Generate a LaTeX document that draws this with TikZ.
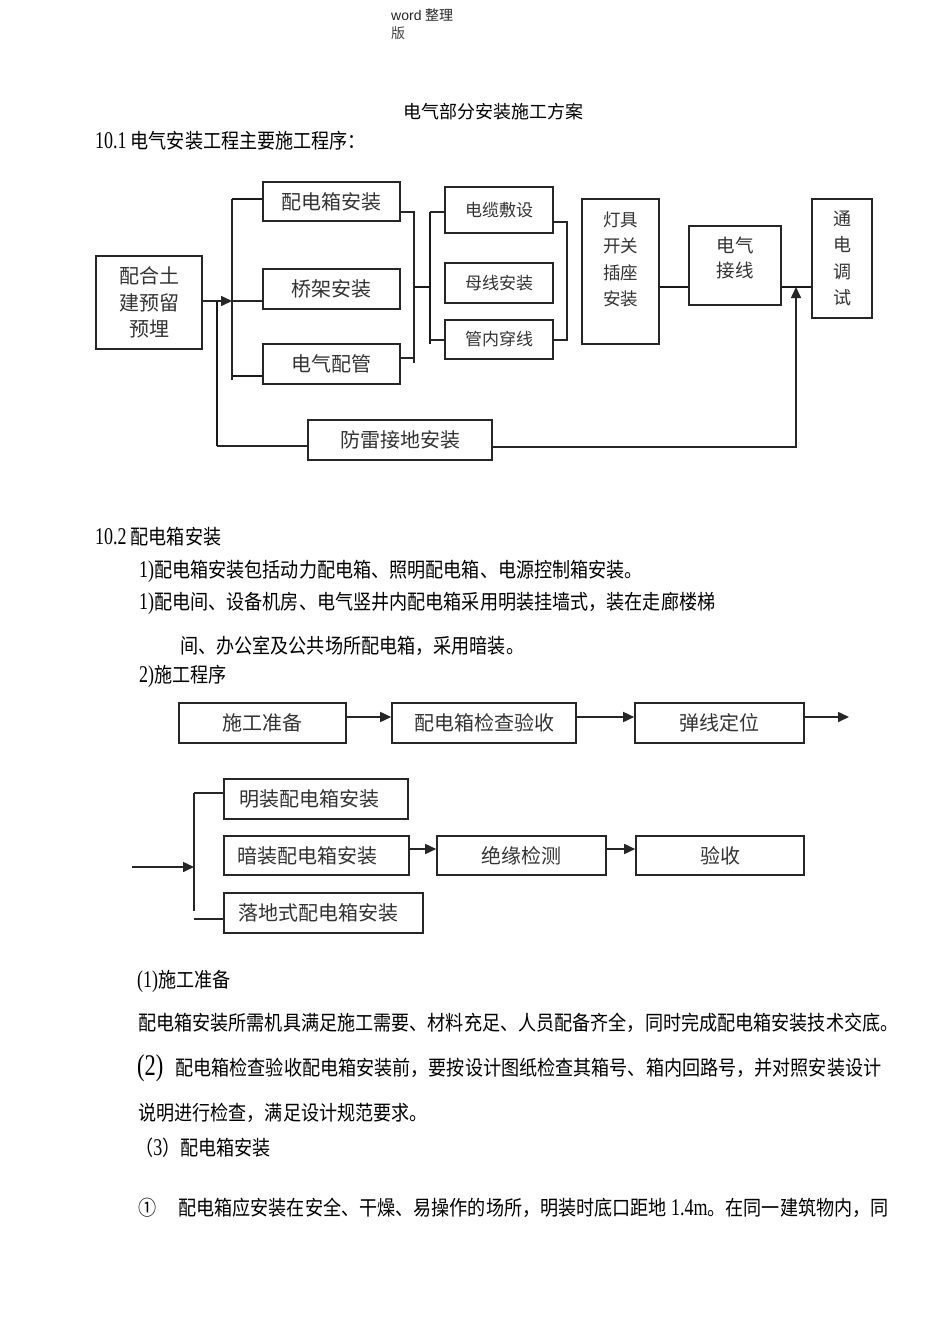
\documentclass[tikz,border=0pt]{standalone}
\usepackage{fontspec}
\setmainfont{Liberation Serif}
\newfontfamily\cjk{Noto Sans CJK SC}
\newfontfamily\cjkc[FakeStretch=0.883]{Noto Sans CJK SC}
\newfontfamily\latc[FakeStretch=0.75]{Liberation Serif}
\newfontfamily\arialf{Liberation Sans}
\usetikzlibrary{arrows.meta}
\newcommand\dg[1]{{\fontsize{24}{24}\latc #1}}
\tikzset{
 box/.style={draw=black!85, line width=1.6pt, inner sep=0pt, font=\fontsize{20}{26.5}\selectfont\cjk, text=black!80, align=center},
 ln/.style={line width=1.6pt, draw=black!85},
 tk/.style={line width=2.6pt, draw=black!90},
 arr/.style={ln, -{Triangle[length=11pt,width=10pt]}},
 body/.style={anchor=west, inner sep=0pt, font=\fontsize{20.5}{20.5}\selectfont\cjkc, text height=17pt, text depth=1.4pt},
}
\begin{document}
\begin{tikzpicture}[x=1pt,y=-1pt]
\useasboundingbox[fill=white] (0,0) rectangle (950,1344);
% header texts
\node[anchor=west, inner sep=0pt, font=\fontsize{14}{14}\selectfont, text=black!85] (w1) at (391,15) {{\arialf word} {\cjk 整理}};
\node[anchor=west, inner sep=0pt, font=\fontsize{14}{14}\selectfont\cjk, text=black!75] (w2) at (391,33) {版};
\node[inner sep=0pt, font=\fontsize{18}{18}\selectfont\cjk] (title) at (493,112) {电气部分安装施工方案};
\node[body] (s101) at (95,141) {\dg{10.1} 电气安装工程主要施工程序：};

% ---------- chart 1 ----------
\node[box, minimum width=106pt, minimum height=93pt] (A) at (149,302.5) {配合土\\建预留\\预埋};
\node[box, minimum width=137pt, minimum height=39pt] (B1) at (331.5,201.5) {配电箱安装};
\node[box, minimum width=137pt, minimum height=40pt] (B2) at (331.5,289) {桥架安装};
\node[box, minimum width=137pt, minimum height=40pt] (B3) at (331.5,364) {电气配管};
\node[box, minimum width=108pt, minimum height=46pt, font=\fontsize{17}{17}\selectfont\cjk] (C1) at (499,210) {电缆敷设};
\node[box, minimum width=108pt, minimum height=40pt, font=\fontsize{17}{17}\selectfont\cjk] (C2) at (499,283) {母线安装};
\node[box, minimum width=108pt, minimum height=39pt, font=\fontsize{17}{17}\selectfont\cjk] (C3) at (499,339.5) {管内穿线};
\node[box, minimum width=77pt, minimum height=145pt] (D) at (620.5,271.5) {};
\node[inner sep=0pt, align=center, font=\fontsize{17.5}{26.3}\selectfont\cjk, text=black!80] (Dt) at (620.5,259.5) {灯具\\开关\\插座\\安装};
\node[box, minimum width=92pt, minimum height=79pt] (E) at (735,265.5) {};
\node[inner sep=0pt, align=center, font=\fontsize{18.5}{25}\selectfont\cjk, text=black!80] (Et) at (735,257.5) {电气\\接线};
\node[box, minimum width=60pt, minimum height=119pt, font=\fontsize{18}{26.3}\selectfont\cjk] (F) at (842,258.5) {通\\电\\调\\试};
\node[box, minimum width=184pt, minimum height=40pt] (G) at (400,440) {防雷接地安装};

\coordinate (b1t) at (232,199);
\coordinate (b1b) at (232,380);
\coordinate (b1m) at (232,301);
\coordinate (b1l) at (232,376);
\draw[ln] (b1t) -- (b1b);
\draw[tk] (b1t) -- (B1.west |- b1t);
\draw[arr] (A.east |- b1m) -- (b1m);
\draw[ln] (b1m) -- (B2.west |- b1m);
\draw[tk] (b1l) -- (B3.west |- b1l);

\coordinate (g1) at (217,301);
\coordinate (g2) at (217,446);
\draw[tk] (g1) -- (g2);
\draw[ln] (g2) -- (G.west |- g2);

\coordinate (r1t) at (414,212);
\coordinate (r1b) at (414,363);
\coordinate (r1l) at (414,358);
\coordinate (r1m) at (414,287);
\draw[ln] (B1.east |- r1t) -- (r1t) -- (r1b);
\draw[ln] (B3.east |- r1l) -- (r1l);
\coordinate (b2m) at (430,287);
\coordinate (b2t) at (430,212);
\coordinate (b2b) at (430,344);
\coordinate (b2l) at (430,340);
\draw[tk] (r1m) -- (b2m);
\draw[tk] (b2t) -- (b2b);
\draw[ln] (b2t) -- (C1.west |- b2t);
\draw[ln] (b2l) -- (C3.west |- b2l);

\coordinate (c1) at (567,222);
\coordinate (c2) at (567,340);
\draw[ln] (C1.east |- c1) -- (c1) -- (c2) -- (C3.east |- c2);

\coordinate (ef) at (796,287);
\draw[tk] (D.east |- ef) -- (E.west |- ef);
\draw[tk] (E.east |- ef) -- (F.west |- ef);
\coordinate (g3) at (796,447);
\draw[arr] (G.east |- g3) -- (g3) -- (ef);

% ---------- section 10.2 text ----------
\node[body] (s102) at (95,537) {\dg{10.2} 配电箱安装};
\node[body] (p1) at (139,570) {\dg{1)}配电箱安装包括动力配电箱、照明配电箱、电源控制箱安装。};
\node[body] (p2) at (139,602) {\dg{1)}配电间、设备机房、电气竖井内配电箱采用明装挂墙式，装在走廊楼梯};
\node[body] (p3) at (180,646) {间、办公室及公共场所配电箱，采用暗装。};
\node[body] (p4) at (139,675) {\dg{2)}施工程序};

% ---------- chart 2 ----------
\node[box, minimum width=167pt, minimum height=40pt] (H1) at (262.5,723) {施工准备};
\node[box, minimum width=184pt, minimum height=40pt] (H2) at (484,723) {配电箱检查验收};
\node[box, minimum width=169pt, minimum height=40pt] (H3) at (719.5,723) {弹线定位};
\coordinate (hy) at (0,717);
\coordinate (hend) at (849,717);
\draw[arr] (H1.east |- hy) -- (H2.west |- hy);
\draw[arr] (H2.east |- hy) -- (H3.west |- hy);
\draw[arr] (H3.east |- hy) -- (hend);

\node[box, minimum width=184pt, minimum height=40pt, text width=154pt, inner xsep=15pt, align=left] (J1) at (316,799) {明装配电箱安装};
\node[box, minimum width=185pt, minimum height=39pt, text width=159pt, inner xsep=13pt, align=left] (J2) at (316.5,855.5) {暗装配电箱安装};
\node[box, minimum width=199pt, minimum height=40pt, text width=171pt, inner xsep=14pt, align=left] (J3) at (323.5,913) {落地式配电箱安装};
\node[box, minimum width=169pt, minimum height=39pt] (K) at (521.5,855.5) {绝缘检测};
\node[box, minimum width=168pt, minimum height=39pt] (L) at (720,855.5) {验收};
\coordinate (jy) at (0,849);
\draw[arr] (J2.east |- jy) -- (K.west |- jy);
\draw[arr] (K.east |- jy) -- (L.west |- jy);

\coordinate (in) at (132,867);
\coordinate (bj) at (194,867);
\coordinate (bjt) at (194,793);
\coordinate (bjb) at (194,911);
\coordinate (bjl) at (194,919);
\draw[arr] (in) -- (bj);
\draw[ln] (bjt) -- (bjb);
\draw[ln] (bjt) -- (J1.west |- bjt);
\draw[ln] (bjl) -- (J3.west |- bjl);

% ---------- body text ----------
\node[body] (p5) at (137,980) {\dg{(1)}施工准备};
\node[body] (p6) at (138,1023) {配电箱安装所需机具满足施工需要、材料充足、人员配备齐全，同时完成配电箱安装技术交底。};
\node[body] (p7) at (137,1068) {{\fontsize{30}{30}\latc (2)}\hspace{12pt}配电箱检查验收配电箱安装前，要按设计图纸检查其箱号、箱内回路号，并对照安装设计};
\node[body] (p8) at (138,1113) {说明进行检查，满足设计规范要求。};
\node[body] (p9) at (135,1148) {（\dg{3}）配电箱安装};
\node[body] (p10) at (138,1208) {①\hspace{22pt}配电箱应安装在安全、干燥、易操作的场所，明装时底口距地 \dg{1.4m}。在同一建筑物内，同};
\end{tikzpicture}
\end{document}
